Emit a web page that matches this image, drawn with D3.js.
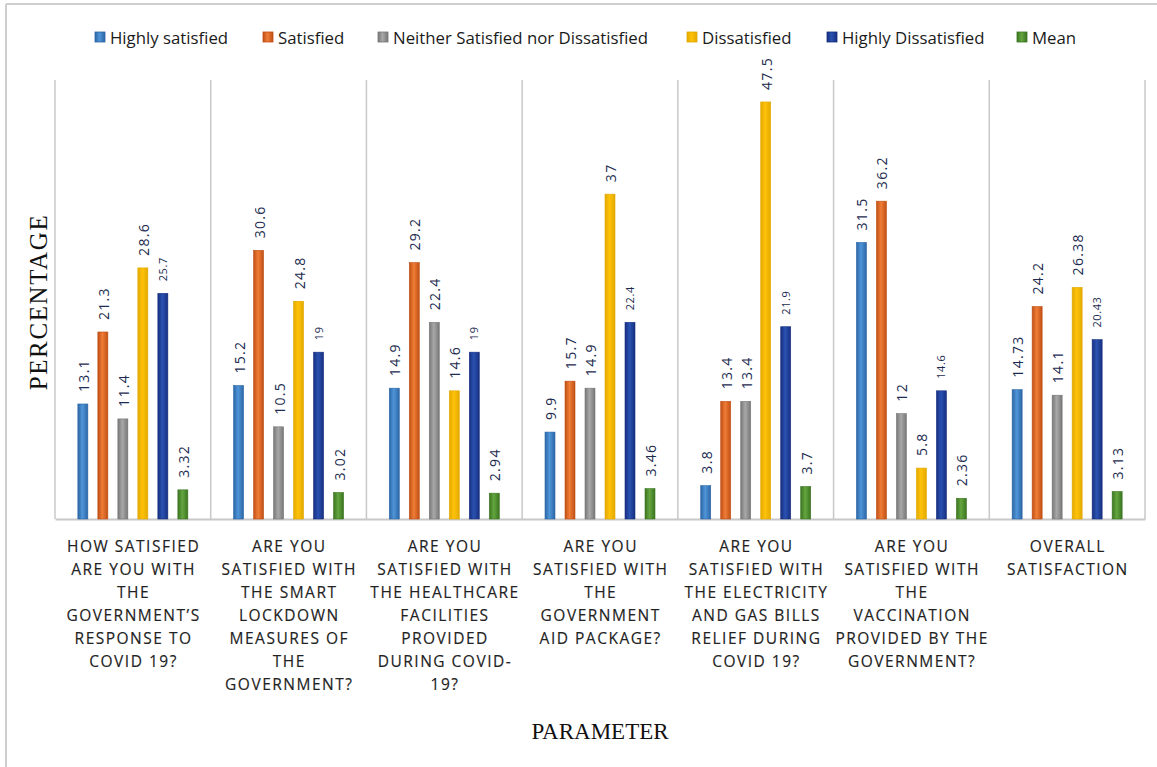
<!DOCTYPE html>
<html>
<head>
<meta charset="utf-8">
<script src="https://cdn.jsdelivr.net/npm/d3@7"></script>
<style>
  html, body { margin: 0; padding: 0; background: #fff; }
  svg { display: block; }
</style>
</head>
<body>
<svg id="chart" width="1157" height="767"></svg>
<script>
// ---------- DATA ----------
const categories = [
  ["HOW SATISFIED", "ARE YOU WITH", "THE", "GOVERNMENT\u2019S", "RESPONSE TO", "COVID 19?"],
  ["ARE YOU", "SATISFIED WITH", "THE SMART", "LOCKDOWN", "MEASURES OF", "THE", "GOVERNMENT?"],
  ["ARE YOU", "SATISFIED WITH", "THE HEALTHCARE", "FACILITIES", "PROVIDED", "DURING COVID-", "19?"],
  ["ARE YOU", "SATISFIED WITH", "THE", "GOVERNMENT", "AID PACKAGE?"],
  ["ARE YOU", "SATISFIED WITH", "THE ELECTRICITY", "AND GAS BILLS", "RELIEF DURING", "COVID 19?"],
  ["ARE YOU", "SATISFIED WITH", "THE", "VACCINATION", "PROVIDED BY THE", "GOVERNMENT?"],
  ["OVERALL", "SATISFACTION"]
];
const seriesNames = ["Highly satisfied", "Satisfied", "Neither Satisfied nor Dissatisfied", "Dissatisfied", "Highly Dissatisfied", "Mean"];
const highlySatisfied    = ["13.1", "15.2", "14.9", "9.9", "3.8", "31.5", "14.73"];
const satisfied          = ["21.3", "30.6", "29.2", "15.7", "13.4", "36.2", "24.2"];
const neither            = ["11.4", "10.5", "22.4", "14.9", "13.4", "12", "14.1"];
const dissatisfied       = ["28.6", "24.8", "14.6", "37", "47.5", "5.8", "26.38"];
const highlyDissatisfied = ["25.7", "19", "19", "22.4", "21.9", "14.6", "20.43"];
const meanValues         = ["3.32", "3.02", "2.94", "3.46", "3.7", "2.36", "3.13"];
const yDomain = [0, 50];

const seriesValues = [highlySatisfied, satisfied, neither, dissatisfied, highlyDissatisfied, meanValues];

// ---------- STYLE ----------
const colorsEdge   = ["#2c66a6", "#c04f16", "#777777", "#e2a900", "#172f80", "#3b7520"];
const colorsCenter = ["#4f95d8", "#ef7d36", "#a8a8a8", "#ffc20a", "#2a52b2", "#64a53f"];

const svg = d3.select("#chart");
const W = 1157, H = 767;
const plotL = 55, plotR = 1145, plotT = 80, plotB = 519;

// outer frame (left & top visible)
svg.append("line").attr("x1", 6).attr("x2", 6).attr("y1", 4).attr("y2", H)
  .attr("stroke", "#cfcfcf").attr("stroke-width", 2);
svg.append("line").attr("x1", 6).attr("x2", W).attr("y1", 4).attr("y2", 4)
  .attr("stroke", "#cfcfcf").attr("stroke-width", 2);

// gradients
const defs = svg.append("defs");
seriesNames.forEach((s, i) => {
  const g = defs.append("linearGradient").attr("id", "grad" + i)
    .attr("x1", "0%").attr("x2", "100%").attr("y1", "0%").attr("y2", "0%");
  g.append("stop").attr("offset", "0%").attr("stop-color", colorsEdge[i]);
  g.append("stop").attr("offset", "45%").attr("stop-color", colorsCenter[i]);
  g.append("stop").attr("offset", "100%").attr("stop-color", colorsEdge[i]);
});

// scales
const x0 = d3.scaleBand().domain(d3.range(categories.length)).range([plotL, plotR]).paddingInner(0).paddingOuter(0);
const side = (x0.bandwidth() - 120) / 2;
const x1 = d3.scaleBand().domain(d3.range(seriesNames.length))
  .range([side, x0.bandwidth() - side]).paddingInner(0.5).paddingOuter(0.25);
const y = d3.scaleLinear().domain(yDomain).range([plotB, plotT]);

// separators
const seps = d3.range(categories.length + 1).map(i => i < categories.length ? x0(i) : plotR);
svg.append("g").selectAll("line").data(seps).join("line")
  .attr("x1", d => d).attr("x2", d => d)
  .attr("y1", plotT).attr("y2", plotB)
  .attr("stroke", "#c8c8c8").attr("stroke-width", 1.5);

// baseline axis
const xAxis = d3.axisBottom(x0).tickSize(0).tickFormat("");
const axG = svg.append("g").attr("transform", `translate(0,${plotB})`).call(xAxis);
axG.select(".domain").attr("stroke", "#c8c8c8").attr("stroke-width", 2);

// bars
const groups = svg.append("g").selectAll("g").data(categories).join("g")
  .attr("transform", (d, i) => `translate(${x0(i)},0)`);

groups.each(function (cat, ci) {
  const g = d3.select(this);
  seriesValues.forEach((vals, si) => {
    const v = +vals[ci];
    const bx = x1(si);
    const bw = x1.bandwidth();
    g.append("rect")
      .attr("x", bx).attr("width", bw)
      .attr("y", y(v)).attr("height", plotB - y(v))
      .attr("fill", `url(#grad${si})`)
      .attr("stroke", colorsEdge[si]).attr("stroke-width", 0.6);
    const small = si === 4;
    g.append("text")
      .attr("transform", `translate(${bx + bw / 2 + (small ? 4 : 6)},${y(v) - 12}) rotate(-90)`)
      .attr("text-anchor", "start")
      .attr("font-family", "'Open Sans', sans-serif")
      .attr("font-size", small ? 11 : 14)
      .attr("letter-spacing", small ? 0.6 : 1.3)
      .attr("fill", "#1c2b4f")
      .text(vals[ci]);
  });
});

// category labels
const catG = svg.append("g");
categories.forEach((lines, ci) => {
  const cx = x0(ci) + x0.bandwidth() / 2;
  const t = catG.append("text")
    .attr("text-anchor", "middle")
    .attr("font-family", "'Open Sans', sans-serif")
    .attr("font-size", 15.5)
    .attr("letter-spacing", 1.5)
    .attr("fill", "#222")
    .attr("stroke", "#222").attr("stroke-width", 0.15);
  lines.forEach((ln, li) => {
    t.append("tspan").attr("x", cx + 0.7).attr("y", 552 + li * 23).text(ln);
  });
});

// axis titles
svg.append("text")
  .attr("transform", `translate(47,302) rotate(-90)`)
  .attr("text-anchor", "middle")
  .attr("font-family", "'Liberation Serif', 'Times New Roman', serif")
  .attr("font-size", 25)
  .attr("letter-spacing", 1.6)
  .attr("fill", "#111")
  .text("PERCENTAGE");
svg.append("text")
  .attr("x", 600).attr("y", 739)
  .attr("text-anchor", "middle")
  .attr("font-family", "'Liberation Serif', 'Times New Roman', serif")
  .attr("font-size", 23)
  .attr("fill", "#111")
  .text("PARAMETER");

// legend
const legendX = [95, 263, 378, 687, 827, 1017];
const leg = svg.append("g");
seriesNames.forEach((s, i) => {
  leg.append("rect").attr("x", legendX[i]).attr("y", 32).attr("width", 10).attr("height", 10)
    .attr("fill", `url(#grad${i})`).attr("stroke", colorsEdge[i]).attr("stroke-width", 0.8);
  leg.append("text").attr("x", legendX[i] + 15).attr("y", 44)
    .attr("font-family", "'Open Sans', sans-serif")
    .attr("font-size", 16.8)
    .attr("fill", "#1a1a1a")
    .text(s);
});
</script>
</body>
</html>
